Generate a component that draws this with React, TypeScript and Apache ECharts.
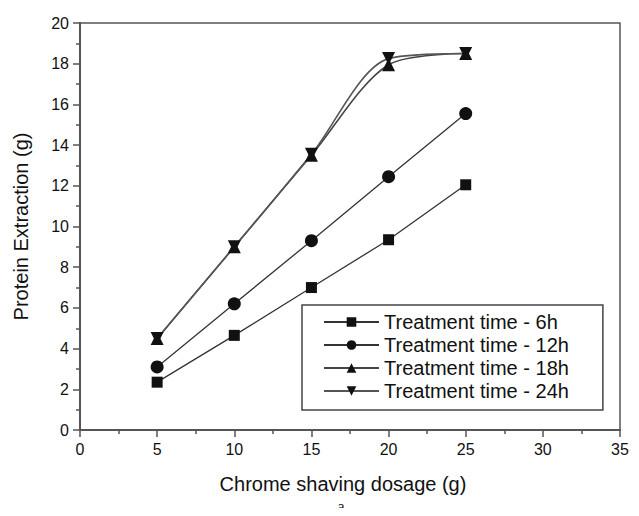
import React, { useEffect, useRef } from "react";
import * as echarts from "echarts";

const dosage = [5, 10, 15, 20, 25];
const t6 = [2.35, 4.65, 7.0, 9.35, 12.05];
const t12 = [3.1, 6.2, 9.3, 12.45, 15.55];
const t18 = [4.5, 9.0, 13.5, 17.95, 18.5];
const t24 = [4.5, 9.0, 13.55, 18.25, 18.5];
const seriesNames = [
  "Treatment time - 6h",
  "Treatment time - 12h",
  "Treatment time - 18h",
  "Treatment time - 24h",
];
const xTitle = "Chrome shaving dosage (g)";
const yTitle = "Protein Extraction (g)";
const caption = "a.";

const FONT = "Liberation Sans, Arial, sans-serif";

export default function App() {
  const ref = useRef<HTMLDivElement>(null);
  useEffect(() => {
    if (!ref.current) return;
    const chart = echarts.init(ref.current, undefined, { renderer: "svg" });
    const pair = (vals: number[]) => dosage.map((d, i) => [d, vals[i]]);
    const axisCommon = {
      axisLine: { show: true, lineStyle: { color: "#555", width: 2 } },
      axisTick: { show: true, inside: false, length: 7, lineStyle: { color: "#555", width: 1.5 } },
      minorTick: { show: true, splitNumber: 2, length: 4, lineStyle: { color: "#555", width: 1.5 } },
      splitLine: { show: false },
      axisLabel: { color: "#111", fontSize: 16, fontFamily: FONT, margin: 11 },
      nameTextStyle: { color: "#111", fontSize: 20, fontFamily: FONT },
    };
    chart.setOption({
      animation: false,
      backgroundColor: "#fff",
      grid: {
        left: 80,
        top: 23,
        right: 19,
        bottom: 86,
        show: true,
        borderColor: "#555",
        borderWidth: 1.5,
      },
      xAxis: {
        type: "value",
        min: 0,
        max: 35,
        interval: 5,
        ...axisCommon,
      },
      yAxis: {
        type: "value",
        min: 0,
        max: 20,
        interval: 2,
        name: yTitle,
        nameLocation: "middle",
        nameGap: 49,
        ...axisCommon,
      },
      legend: {
        orient: "vertical",
        left: 302,
        top: 305,
        backgroundColor: "#fff",
        borderColor: "#444",
        borderWidth: 1.5,
        borderRadius: 0,
        padding: [7, 34, 9, 21],
        itemWidth: 55,
        itemHeight: 12,
        itemGap: 3,
        textStyle: { color: "#111", fontSize: 20, fontFamily: FONT, lineHeight: 20 },
        data: seriesNames,
      },
      graphic: [
        {
          type: "text",
          x: 343,
          y: 474,
          style: {
            text: xTitle,
            fontSize: 20,
            fontFamily: FONT,
            fill: "#111",
            align: "center",
            verticalAlign: "top",
          },
        },
        {
          type: "text",
          x: 343,
          y: 506,
          style: {
            text: caption,
            fontSize: 16,
            fontFamily: "Liberation Serif, Times New Roman, serif",
            fill: "#222",
            align: "center",
            verticalAlign: "middle",
          },
        },
      ],
      series: [
        {
          name: seriesNames[0],
          type: "line",
          data: pair(t6),
          symbol: "rect",
          symbolSize: 11,
          itemStyle: { color: "#111" },
          lineStyle: { color: "#333", width: 1.3 },
          z: 3,
        },
        {
          name: seriesNames[1],
          type: "line",
          data: pair(t12),
          symbol: "circle",
          symbolSize: 13,
          itemStyle: { color: "#111" },
          lineStyle: { color: "#333", width: 1.3 },
          z: 3,
        },
        {
          name: seriesNames[2],
          type: "line",
          data: pair(t18),
          symbol: "triangle",
          symbolSize: 13,
          smooth: 0.3,
          itemStyle: { color: "#111" },
          lineStyle: { color: "#444", width: 1.6 },
          z: 4,
        },
        {
          name: seriesNames[3],
          type: "line",
          data: pair(t24),
          symbol: "triangle",
          symbolRotate: 180,
          symbolSize: 13,
          smooth: 0.3,
          itemStyle: { color: "#111" },
          lineStyle: { color: "#555", width: 1.6 },
          z: 4,
        },
      ],
    });
    return () => chart.dispose();
  }, []);
  return <div ref={ref} style={{ width: 639, height: 516, margin: -8 }} />;
}
